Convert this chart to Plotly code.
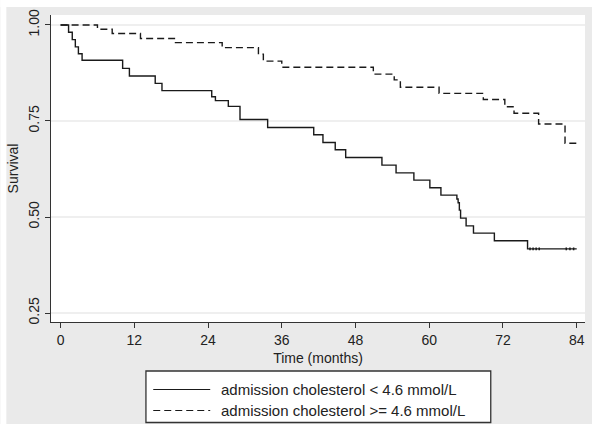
import plotly.graph_objects as go

# ---- data ----
time_low = [0, 1.3, 1.9, 2.4, 2.9, 3.5, 10.1, 11.2, 15.4, 16.5, 24.6, 25.2, 27.3, 29.2,
            33.7, 41.2, 42.7, 44.7, 46.4, 52.3, 54.6, 57.5, 60.1, 61.9, 64.5, 64.7,
            64.9, 65.1, 66.0, 67.2, 70.6, 76.0, 84.0]
surv_low = [1.0, 0.981, 0.962, 0.943, 0.925, 0.908, 0.887, 0.867, 0.848, 0.829, 0.813,
            0.803, 0.788, 0.754, 0.733, 0.714, 0.694, 0.675, 0.655, 0.635, 0.615, 0.596,
            0.576, 0.557, 0.547, 0.537, 0.518, 0.497, 0.477, 0.458, 0.438, 0.417, 0.417]
censor_low_t = [76.4, 76.9, 77.4, 77.9, 82.3, 82.9, 83.5]
censor_low_s = [0.417, 0.417, 0.417, 0.417, 0.417, 0.417, 0.417]

time_high = [0, 6.0, 8.4, 13.0, 18.7, 26.3, 32.2, 33.0, 36.0, 50.9, 54.3, 55.3, 61.6,
             68.8, 72.3, 73.8, 77.8, 82.1, 84.0]
surv_high = [1.0, 0.989, 0.978, 0.965, 0.954, 0.941, 0.924, 0.906, 0.890, 0.872, 0.857,
             0.838, 0.822, 0.806, 0.787, 0.770, 0.742, 0.692, 0.692]

legend_labels = ["admission cholesterol < 4.6 mmol/L",
                 "admission cholesterol >= 4.6 mmol/L"]
x_ticks = [0, 12, 24, 36, 48, 60, 72, 84]
y_ticks = [0.25, 0.50, 0.75, 1.00]
y_ticktext = ["0.25", "0.50", "0.75", "1.00"]

# ---- layout geometry (pixels) ----
W, H = 592, 424
L, R, T, B = 50.7, 585.0, 15.0, 322.0
PW, PH = R - L, B - T


def px(x):
    return (x - L) / PW


def py(y):
    return (B - y) / PH


FONT = "Liberation Sans, Arial, sans-serif"
GRAY = "#eaeaea"
INK = "#222222"

fig = go.Figure()
fig.add_trace(go.Scatter(x=time_low, y=surv_low, mode="lines", line_shape="hv",
                         line=dict(color="#1a1a1a", width=1.4),
                         name=legend_labels[0], showlegend=False))
fig.add_trace(go.Scatter(x=censor_low_t, y=censor_low_s, mode="markers",
                         marker=dict(symbol="line-ns", size=2,
                                     line=dict(color="#1a1a1a", width=1.5)),
                         showlegend=False, hoverinfo="skip"))
fig.add_trace(go.Scatter(x=time_high, y=surv_high, mode="lines", line_shape="hv",
                         line=dict(color="#1a1a1a", width=1.4, dash="7px,4px"),
                         name=legend_labels[1], showlegend=False))

shapes = []
# white outer border strips (left and top)
shapes.append(dict(type="rect", xref="paper", yref="paper", x0=px(0), x1=px(6),
                   y0=py(H), y1=py(0), fillcolor="white", line=dict(width=0), layer="below"))
shapes.append(dict(type="rect", xref="paper", yref="paper", x0=px(0), x1=px(W),
                   y0=py(7), y1=py(0), fillcolor="white", line=dict(width=0), layer="below"))
# legend box
LX0, LX1, LY0, LY1 = 145.7, 490.7, 371.0, 422.5
shapes.append(dict(type="rect", xref="paper", yref="paper", x0=px(LX0), x1=px(LX1),
                   y0=py(LY1), y1=py(LY0), fillcolor="white",
                   line=dict(color="#333333", width=1.3)))
row_y = [389.5, 410.5]
dashes = ["solid", "7px,4px"]
annotations = []
for ry, d, lab in zip(row_y, dashes, legend_labels):
    shapes.append(dict(type="line", xref="paper", yref="paper", x0=px(153), x1=px(210),
                       y0=py(ry), y1=py(ry), line=dict(color="#1a1a1a", width=1.2, dash=d)))
    annotations.append(dict(xref="paper", yref="paper", x=px(219), y=py(ry), text=lab,
                            showarrow=False, xanchor="left", yanchor="middle",
                            font=dict(family=FONT, size=15, color=INK)))

fig.update_layout(
    width=W, height=H, autosize=False,
    margin=dict(l=L, r=W - R, t=T, b=H - B, pad=0),
    paper_bgcolor=GRAY, plot_bgcolor="white",
    font=dict(family=FONT, size=14, color=INK),
    shapes=shapes, annotations=annotations, showlegend=False,
)
fig.update_xaxes(range=[-1.56, 85.35], tickvals=x_ticks, ticks="outside", ticklen=5,
                 tickwidth=1.3, tickcolor="#333333", showline=True, linecolor="#333333",
                 linewidth=1.4, showgrid=False, zeroline=False, automargin=False,
                 title=dict(text="Time (months)", standoff=6, font=dict(size=14)),
                 tickfont=dict(size=14))
fig.update_yaxes(range=[0.2266, 1.026], tickvals=y_ticks, ticktext=y_ticktext,
                 tickangle=-90, ticks="outside", ticklen=5, tickwidth=1.3,
                 tickcolor="#333333", showline=True, linecolor="#333333", linewidth=1.4,
                 showgrid=True, gridcolor="#efefef", gridwidth=1.5, zeroline=False,
                 automargin=False,
                 title=dict(text="Survival", standoff=4, font=dict(size=14)),
                 tickfont=dict(size=14))

fig.write_html("out.html", config={"displayModeBar": False},
               post_script="document.body.style.margin='0';document.body.style.overflow='hidden';")
